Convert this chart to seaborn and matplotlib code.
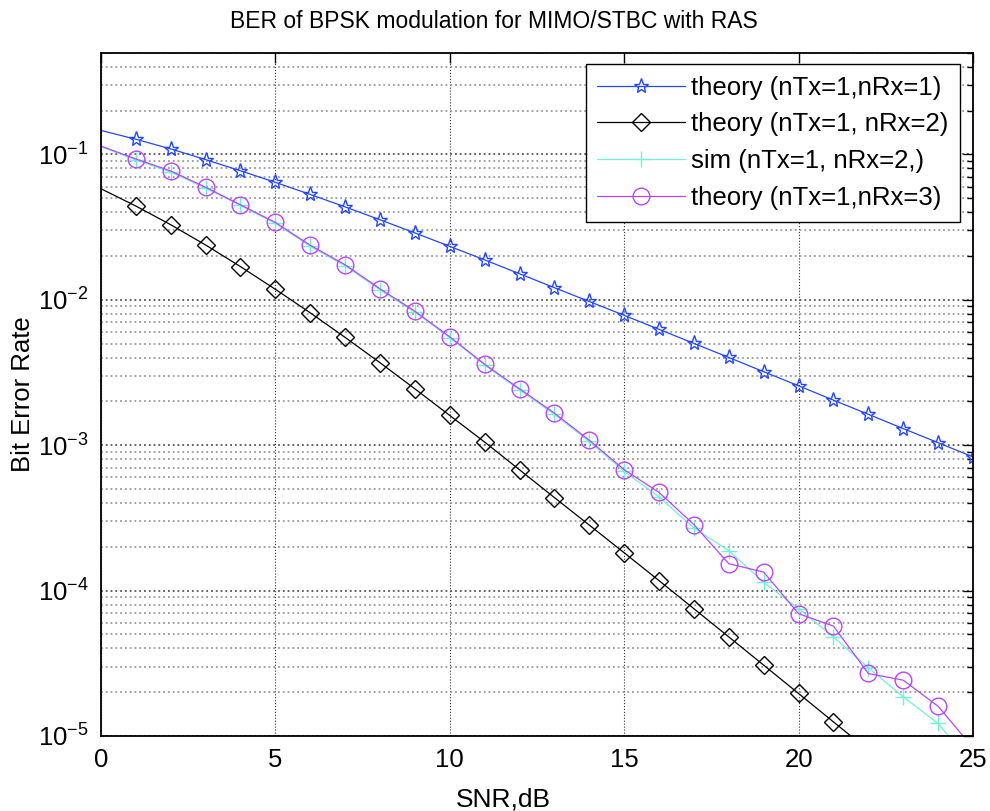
import numpy as np
import pandas as pd
import matplotlib
matplotlib.use('Agg')
import matplotlib.pyplot as plt
import seaborn as sns
from matplotlib.lines import Line2D
from matplotlib.ticker import LogLocator, NullFormatter, FixedLocator

# Datos
snr_db = list(range(0, 26))

ber_theory_1rx = [0.146, 0.127, 0.109, 0.092, 0.0771, 0.0642, 0.0530, 0.0435, 0.0355,
                  0.0288, 0.0233, 0.0188, 0.0151, 0.0121, 0.00973, 0.00781, 0.00626,
                  0.00501, 0.00401, 0.00320, 0.00256, 0.00204, 0.00163, 0.00130,
                  0.00104, 0.00083]

ber_theory_2rx = [0.0580, 0.0441, 0.0328, 0.0238, 0.0169, 0.0118, 0.00813, 0.00551,
                  0.00369, 0.00244, 0.00160, 0.00105, 0.000677, 0.000436, 0.000282,
                  0.000182, 0.000117, 7.5e-5, 4.8e-5, 3.07e-5, 1.96e-5, 1.25e-5,
                  8.0e-6, 5.1e-6, 3.3e-6, 2.1e-6]

ber_sim_2rx = [0.113, 0.0915, 0.0755, 0.0585, 0.0445, 0.0335, 0.0233, 0.0171, 0.0117,
               0.0082, 0.0055, 0.00355, 0.0024, 0.00163, 0.00106, 0.00066, 0.00044,
               0.00027, 0.000188, 0.000114, 7.5e-5, 4.8e-5, 2.95e-5, 1.86e-5,
               1.22e-5, 6.3e-6]

ber_theory_3rx = [0.114, 0.093, 0.0769, 0.0594, 0.045, 0.034, 0.0237, 0.0174, 0.0119,
                  0.00834, 0.00556, 0.0036, 0.00244, 0.00166, 0.00108, 0.000678,
                  0.000473, 0.000284, 0.000153, 0.000134, 6.93e-5, 5.7e-5, 2.69e-5,
                  2.42e-5, 1.6e-5, 8.3e-6]

labels = ['theory (nTx=1,nRx=1)', 'theory (nTx=1, nRx=2)',
          'sim (nTx=1, nRx=2,)', 'theory (nTx=1,nRx=3)']
colors = ['#2546ff', '#000000', '#6ff2d8', '#bb44ff']
markers = ['*', 'D', '+', 'o']
msizes = [11, 9, 12, 12]

sns.set_style('white')
plt.rcParams['font.family'] = ['Liberation Sans', 'DejaVu Sans']
plt.rcParams['mathtext.fontset'] = 'custom'
plt.rcParams['mathtext.rm'] = 'Liberation Sans'
plt.rcParams['mathtext.it'] = 'Liberation Sans'
for k in ['text.color', 'axes.labelcolor', 'xtick.color', 'ytick.color']:
    plt.rcParams[k] = 'black'

df = pd.DataFrame({'snr': snr_db, 'th1': ber_theory_1rx, 'th2': ber_theory_2rx,
                   'sim2': ber_sim_2rx, 'th3': ber_theory_3rx})
series = ['th1', 'th2', 'sim2', 'th3']

fig = plt.figure(figsize=(9.9, 8.11), dpi=100)
ax = fig.add_axes([0.102, 0.0925, 0.8808, 0.8425])
ax.set_yscale('log')

handles = []
for col, lab, c, m, ms in zip(series, labels, colors, markers, msizes):
    # linea completa desde 0 dB
    sns.lineplot(data=df, x='snr', y=col, color=c, linewidth=0.9,
                 estimator=None, errorbar=None, ax=ax)
    # marcadores a partir de 1 dB
    sns.lineplot(data=df[df['snr'] >= 1], x='snr', y=col, color=c, linewidth=0,
                 marker=m, markersize=ms, mfc='none', mec=c, mew=1.0,
                 estimator=None, errorbar=None, ax=ax)
    handles.append(Line2D([], [], color=c, linewidth=0.9, marker=m, markersize=ms,
                          mfc='none', mec=c, mew=1.0, label=lab))

ax.set_xlim(0, 25)
ax.set_ylim(1e-5, 0.5)

# Rejilla estilo MATLAB
ax.xaxis.set_major_locator(FixedLocator([0, 5, 10, 15, 20, 25]))
ax.yaxis.set_major_locator(LogLocator(base=10, numticks=10))
ax.yaxis.set_minor_locator(LogLocator(base=10, subs=np.arange(2, 10), numticks=20))
ax.yaxis.set_minor_formatter(NullFormatter())
ax.grid(True, which='minor', axis='y', color='#9a9a9a', linestyle=':', linewidth=1.3)
ax.grid(True, which='major', axis='y', color='#555555', linestyle=':', linewidth=1.3)
ax.grid(True, which='major', axis='x', color='#333333', linestyle=':', linewidth=0.8)

ax.tick_params(which='both', direction='in', top=True, right=True, labelsize=18.5)
ax.tick_params(which='major', length=7, width=1.0, pad=9)
ax.tick_params(which='minor', length=4, width=1.0)
for sp in ax.spines.values():
    sp.set_color('black')
    sp.set_linewidth(1.3)

ax.set_title('BER of BPSK modulation for MIMO/STBC with RAS', fontsize=16.5, pad=18,
             x=0.451)
ax.set_xlabel('SNR,dB', fontsize=19, labelpad=4)
ax.xaxis.set_label_coords(0.461, -0.075)
ax.set_ylabel('Bit Error Rate', fontsize=18.5)
ax.yaxis.set_label_coords(-0.076, 0.5)

leg = ax.legend(handles=handles, loc='upper right', bbox_to_anchor=(0.985, 0.9835),
                borderaxespad=0, fontsize=18.5, fancybox=False, framealpha=1,
                edgecolor='black', handlelength=3.4, handletextpad=0.25,
                labelspacing=0.5, borderpad=0.45, numpoints=1)
leg.get_frame().set_linewidth(1.0)

plt.savefig('out.png', dpi=100)
